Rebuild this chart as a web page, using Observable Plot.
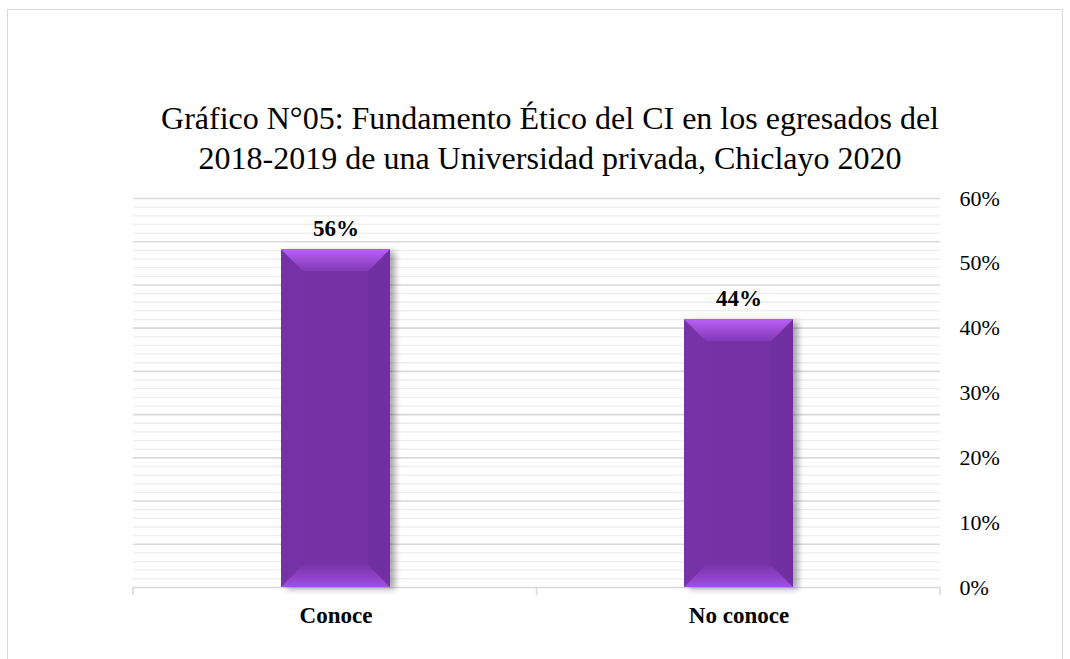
<!DOCTYPE html>
<html>
<head>
<meta charset="utf-8">
<script src="https://cdn.jsdelivr.net/npm/d3@7"></script>
<script src="https://cdn.jsdelivr.net/npm/@observablehq/plot@0.6"></script>
<style>
html,body{margin:0;padding:0;background:#fff;}
#wrap{position:relative;width:1070px;height:659px;overflow:hidden;font-family:"Liberation Serif","Times New Roman",serif;color:#000;}
#frame{position:absolute;left:7px;top:9px;width:1056px;height:720px;border:1.5px solid #D9D9D9;box-sizing:border-box;}
#title{position:absolute;left:50px;top:98px;width:1000px;text-align:center;font-size:32px;line-height:40px;color:#000;}
#chart{position:absolute;left:0;top:0;}
</style>
</head>
<body>
<div id="wrap">
  <div id="frame"></div>
  <div id="chart"></div>
  <div id="title">Gráfico N°05: Fundamento Ético del CI en los egresados del<br>2018-2019 de una Universidad privada, Chiclayo 2020</div>
</div>
<script>
// ---- data ----
const categories = ["Conoce", "No conoce"];
const barValues = [0.521, 0.413];          // bar heights as drawn on the 0–60% axis
const barLabels = ["56%", "44%"];          // data labels printed above the bars
const yTicks = [0, 0.1, 0.2, 0.3, 0.4, 0.5, 0.6];
const yMax = 0.6;
const minorGridCount = 45;                 // light gridlines across the axis
const majorEvery = 5;                      // every 5th gridline is darker

const data = categories.map((c, i) => ({category: c, value: barValues[i], label: barLabels[i]}));
const gridAll = d3.range(1, minorGridCount + 1).map(i => i * yMax / minorGridCount);
const minorGrid = gridAll.filter((d, i) => (i + 1) % majorEvery !== 0);
const majorGrid = gridAll.filter((d, i) => (i + 1) % majorEvery === 0);

const chart = Plot.plot({
  width: 1070,
  height: 659,
  marginLeft: 133,
  marginRight: 130,
  marginTop: 198,
  marginBottom: 72,
  style: {fontFamily: "'Liberation Serif','Times New Roman',serif", color: "#000", background: "transparent"},
  x: {domain: categories, paddingInner: 0.73, paddingOuter: 0.365},
  y: {domain: [0, yMax]},
  marks: [
    Plot.ruleY(minorGrid, {stroke: "#EEEEEE", strokeWidth: 1.3}),
    Plot.ruleY(majorGrid, {stroke: "#D9D9D9", strokeWidth: 1.6}),
    Plot.ruleY([0], {stroke: "#D9D9D9", strokeWidth: 1.6}),
    Plot.barY(data, {x: "category", y: "value", fill: "#7431A4"}),
    Plot.text(data, {x: "category", y: "value", text: "label", lineAnchor: "bottom", dy: -14,
                     fontWeight: "bold", fontSize: 23, fill: "#000"}),
    Plot.axisY({anchor: "right", ticks: yTicks, tickFormat: d3.format(".0%"), tickSize: 0,
                tickPadding: 19, fontSize: 22, label: null}),
    Plot.axisX({anchor: "bottom", tickSize: 0, tickPadding: 19, fontSize: 23, fontWeight: "bold", label: null})
  ]
});
document.getElementById("chart").appendChild(chart);

// ---- decoration: bevel, shadow and category boundary ticks ----
const svg = d3.select(chart);
const defs = svg.insert("defs", ":first-child");
const shadow = defs.append("filter").attr("id", "barShadow").attr("x", "-20%").attr("y", "-10%").attr("width", "150%").attr("height", "130%");
shadow.append("feDropShadow").attr("dx", 5).attr("dy", 2).attr("stdDeviation", 3)
  .attr("flood-color", "#000").attr("flood-opacity", 0.35);
function vgrad(id, c0, c1) {
  const g = defs.append("linearGradient").attr("id", id).attr("x1", 0).attr("y1", 0).attr("x2", 0).attr("y2", 1);
  g.append("stop").attr("offset", "0%").attr("stop-color", c0);
  g.append("stop").attr("offset", "100%").attr("stop-color", c1);
}
vgrad("bevTop", "#B860F5", "#8238B6");
vgrad("bevBot", "#7934AA", "#A24EE2");

const bevel = 22;
svg.selectAll("g[aria-label='bar'] rect").each(function () {
  const r = d3.select(this);
  r.attr("filter", "url(#barShadow)");
  const x = +r.attr("x"), y = +r.attr("y"), w = +r.attr("width"), h = +r.attr("height");
  const g = d3.select(this.parentNode);
  const b = Math.min(bevel, h / 2, w / 2);
  const poly = (pts, fill) => g.append("polygon").attr("points", pts.map(p => p.join(",")).join(" ")).attr("fill", fill);
  poly([[x, y], [x + b, y + b], [x + b, y + h - b], [x, y + h]], "#7633A7");
  poly([[x + w, y], [x + w - b, y + b], [x + w - b, y + h - b], [x + w, y + h]], "#7130A1");
  poly([[x, y], [x + w, y], [x + w - b, y + b], [x + b, y + b]], "url(#bevTop)");
  poly([[x, y + h], [x + w, y + h], [x + w - b, y + h - b], [x + b, y + h - b]], "url(#bevBot)");
});

const xs = chart.scale("x");
const ys = chart.scale("y");
const y0 = Math.max(...ys.range);
const [xa, xb] = xs.range;
const n = categories.length;
const tickG = svg.append("g");
for (let i = 0; i <= n; i++) {
  const xp = xa + i * (xb - xa) / n;
  tickG.append("line").attr("x1", xp).attr("x2", xp).attr("y1", y0).attr("y2", y0 + 8)
    .attr("stroke", "#D9D9D9").attr("stroke-width", 1.6);
}
</script>
</body>
</html>
